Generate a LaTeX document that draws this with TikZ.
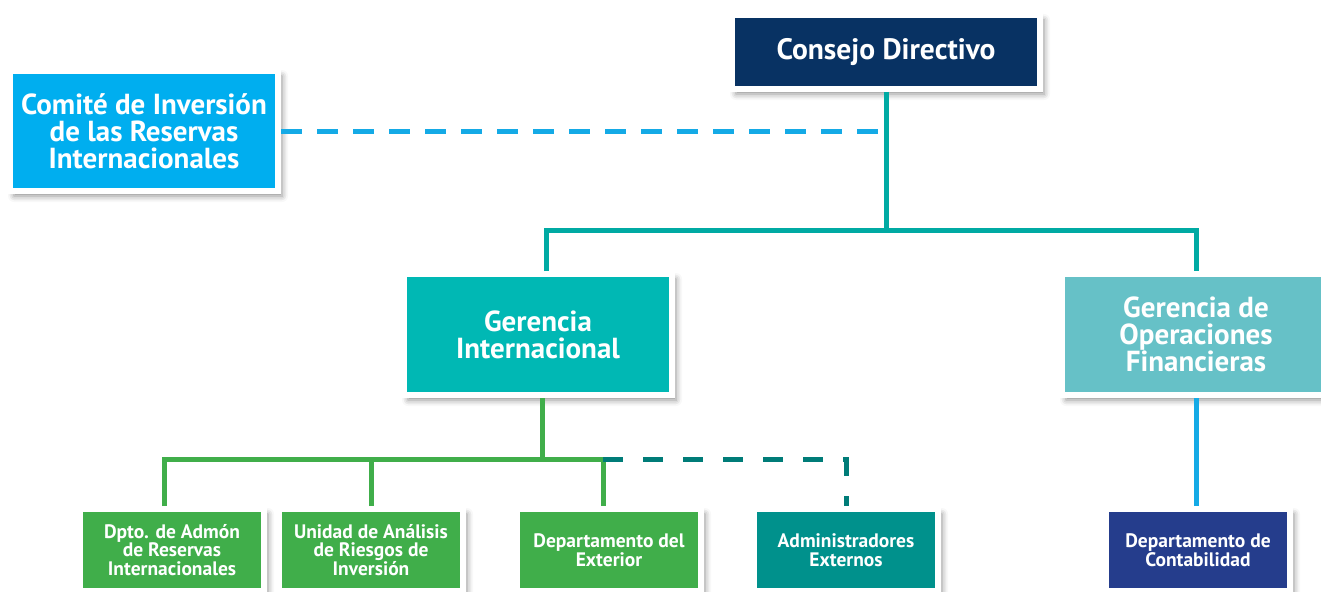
\documentclass[tikz,border=0pt]{standalone}
\usepackage{fontspec}
\setmainfont{PT Sans}
\usetikzlibrary{shadows.blur}

\definecolor{consejoblue}{RGB}{8,50,99}
\definecolor{comiteblue}{RGB}{0,174,239}
\definecolor{gintteal}{RGB}{0,184,180}
\definecolor{gopteal}{RGB}{102,193,199}
\definecolor{dptogreen}{RGB}{64,174,74}
\definecolor{adminteal}{RGB}{0,145,140}
\definecolor{contabblue}{RGB}{37,61,140}
\definecolor{linkteal}{RGB}{0,170,163}
\definecolor{linkdark}{RGB}{0,124,120}
\definecolor{linkblue}{RGB}{20,170,230}

\tikzset{
  orgbox/.style={draw=white, line width=6pt, text=white, align=center, inner sep=0pt,
    font=\bfseries,
    blur shadow={shadow xshift=4pt, shadow yshift=-5pt, shadow blur radius=6pt, shadow opacity=45}},
  bigbox/.style={orgbox, minimum width=268, minimum height=121,
    font=\bfseries\fontsize{29}{27}\selectfont},
  smallbox/.style={orgbox, minimum width=184, minimum height=82,
    font=\bfseries\fontsize{19.5}{18.5}\selectfont},
  orgline/.style={line width=5pt},
}

\begin{document}
\begin{tikzpicture}[x=1pt,y=-1pt]
\useasboundingbox (0,0) rectangle (1321,591);
\clip (0,0) rectangle (1321,591);

% top levels
\node[orgbox, fill=consejoblue, minimum width=308, minimum height=74,
  font=\bfseries\fontsize{29.5}{27}\selectfont] (consejo) at (886,52) {Consejo Directivo};
\node[bigbox, fill=comiteblue, minimum height=120] (comite) at (144,131)
  {Comité de Inversión\\de las Reservas\\Internacionales};
\node[bigbox, fill=gintteal] (gint) at (538,334.5) {Gerencia\\Internacional};
\node[bigbox, fill=gopteal] (gop) at (1196,334.5) {Gerencia de\\Operaciones\\Financieras};

% departments
\node[smallbox, fill=dptogreen] (dpto) at (172,550) {Dpto. de Admón\\de Reservas\\Internacionales};
\node[smallbox, fill=dptogreen] (unidad) at (371,550) {Unidad de Análisis\\de Riesgos de\\Inversión};
\node[smallbox, fill=dptogreen] (exterior) at (609,550) {Departamento del\\Exterior};
\node[smallbox, fill=adminteal] (admin) at (846,550) {Administradores\\Externos};
\node[smallbox, fill=contabblue] (contab) at (1198,550) {Departamento de\\Contabilidad};

% connectors
\coordinate (split1) at (886,230);
\coordinate (split2) at (542,459);

\draw[orgline, linkblue, dash pattern=on 21pt off 15pt] (comite.east) -- (comite.east -| consejo.south);
\draw[orgline, linkteal] (consejo.south) -- (split1);
\draw[orgline, linkteal] ([xshift=8pt]gint.north) |- (split1) -| (gop.north);

\draw[orgline, dptogreen] (split2 |- gint.south) -- (split2);
\draw[orgline, dptogreen] ([xshift=-8pt]dpto.north) |- (split2) -| ([xshift=-6pt]exterior.north);
\draw[orgline, dptogreen] (unidad.north) -- (unidad.north |- split2);
\draw[orgline, linkdark, dash pattern=on 20pt off 20pt] ([xshift=-6pt]exterior.north |- split2) -| (admin.north);

\draw[orgline, linkblue] (gop.south) -- (gop.south |- contab.north);

\end{tikzpicture}
\end{document}
